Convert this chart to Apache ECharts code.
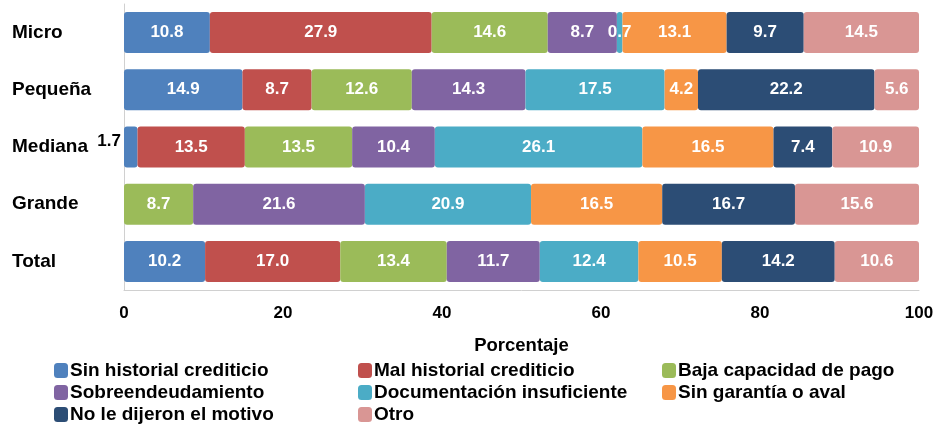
<!DOCTYPE html>
<html><head><meta charset="utf-8">
<script src="https://cdn.jsdelivr.net/npm/echarts@6/dist/echarts.min.js"></script>
<style>html,body{margin:0;padding:0;background:#fff}#c{width:943px;height:424px}</style>
</head><body><div id="c"></div>
<script>
const categories = ["Micro", "Pequeña", "Mediana", "Grande", "Total"];
const seriesNames = ["Sin historial crediticio", "Mal historial crediticio", "Baja capacidad de pago",
  "Sobreendeudamiento", "Documentación insuficiente", "Sin garantía o aval", "No le dijeron el motivo", "Otro"];
const sinHistorial = [10.8, 14.9, 1.7, 0, 10.2];
const malHistorial = [27.9, 8.7, 13.5, 0, 17.0];
const bajaCapacidad = [14.6, 12.6, 13.5, 8.7, 13.4];
const sobreendeudamiento = [8.7, 14.3, 10.4, 21.6, 11.7];
const documentacion = [0.7, 17.5, 26.1, 20.9, 12.4];
const sinGarantia = [13.1, 4.2, 16.5, 16.5, 10.5];
const noDijeron = [9.7, 22.2, 7.4, 16.7, 14.2];
const otro = [14.5, 5.6, 10.9, 15.6, 10.6];
const xTicks = [0, 20, 40, 60, 80, 100];

const values = [sinHistorial, malHistorial, bajaCapacidad, sobreendeudamiento, documentacion, sinGarantia, noDijeron, otro];
const colors = ["#4F81BD", "#C0504D", "#9BBB59", "#8064A2", "#4BACC6", "#F79646", "#2C4D75", "#D99694"];
const FONT = '"Liberation Sans", Arial, sans-serif';

const series = values.map((arr, si) => ({
  name: seriesNames[si],
  type: 'bar',
  stack: 'total',
  barWidth: 41,
  itemStyle: { color: colors[si], borderRadius: 3 },
  label: { show: true, position: 'inside', color: '#fff', fontFamily: FONT, fontWeight: 'bold', fontSize: 17,
    formatter: p => p.value > 0 ? p.value.toFixed(1) : '' },
  data: arr.map((v, ci) => {
    const item = { value: v };
    if (v > 0 && v < 3 && si === 0) {
      item.label = { position: 'left', color: '#000', distance: 3, offset: [0, -6] };
    }
    return item;
  })
}));

const legendStyle = { fontFamily: FONT, fontWeight: 'bold', fontSize: 19, color: '#000' };
// legend slots: [seriesIndex, left, centerY]
const legendSlots = [[0, 54, 371], [1, 358, 371], [2, 662, 371],
                     [3, 54, 393], [4, 358, 393], [5, 662, 393],
                     [6, 54, 415], [7, 358, 415]];
const legends = legendSlots.map(([si, left, cy]) => ({
  left: left, top: cy - 10, itemWidth: 14, itemHeight: 15, padding: 0,
  icon: 'roundRect', textStyle: Object.assign({ padding: [0, 0, 0, -3] }, legendStyle),
  data: [seriesNames[si]], selectedMode: false
}));

const chart = echarts.init(document.getElementById('c'), null, { renderer: 'canvas' });
chart.setOption({
  animation: false,
  color: colors,
  grid: { left: 124, right: 24, top: 4, height: 286, containLabel: false },
  legend: legends,
  xAxis: {
    type: 'value', min: xTicks[0], max: xTicks[xTicks.length - 1], interval: 20,
    name: 'Porcentaje', nameLocation: 'middle', nameGap: 46,
    nameTextStyle: { fontFamily: FONT, fontWeight: 'bold', fontSize: 18.5, color: '#000' },
    axisLine: { show: true, lineStyle: { color: '#d0d0d0' } },
    axisTick: { show: false },
    splitLine: { show: false },
    axisLabel: { fontFamily: FONT, fontWeight: 'bold', fontSize: 17, color: '#000', margin: 15 }
  },
  yAxis: {
    type: 'category', data: categories, inverse: true,
    axisLine: { show: true, lineStyle: { color: '#d0d0d0' } },
    axisTick: { show: false },
    axisLabel: { fontFamily: FONT, fontWeight: 'bold', fontSize: 19, color: '#000', align: 'left', margin: 112 }
  },
  series: series
});
</script></body></html>
